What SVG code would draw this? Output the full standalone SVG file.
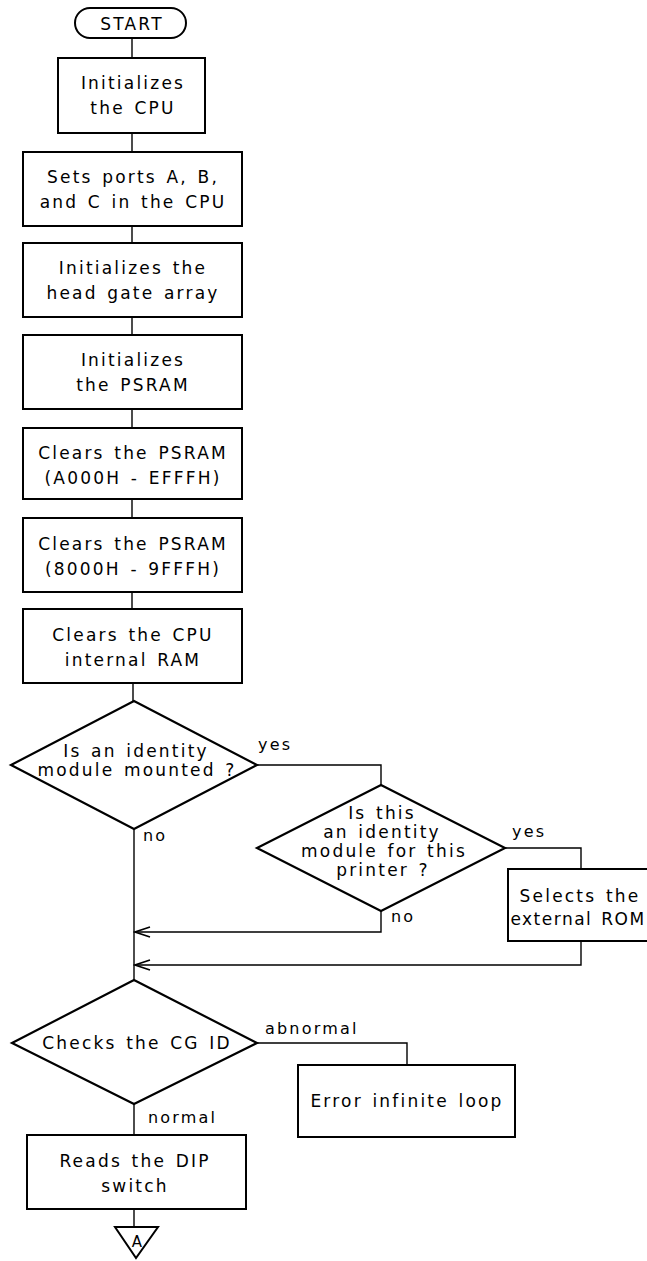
<svg xmlns="http://www.w3.org/2000/svg" width="647" height="1261" viewBox="0 0 647 1261">
<style>
  .box { fill: #fff; stroke: #000; stroke-width: 2; }
  .dia { fill: #fff; stroke: #000; stroke-width: 2.2; stroke-linejoin: miter; }
  .conn { fill: none; stroke: #000; stroke-width: 1.4; }
  text { font-family: "DejaVu Sans", "Liberation Sans", sans-serif; font-size: 17px; fill: #000; letter-spacing: 2.2px; word-spacing: 2px; }
  .c { text-anchor: middle; }
  .lbl { font-size: 16px; }
</style>
<defs>
  <marker id="arr" markerUnits="userSpaceOnUse" viewBox="-17 -7 19 14" refX="0" refY="0" markerWidth="19" markerHeight="14" orient="auto">
    <path d="M-15,-5 L0,0 L-15,5" fill="none" stroke="#000" stroke-width="1.6"/>
  </marker>
</defs>
<rect width="647" height="1261" fill="#fff"/>

<g id="connectors">
  <path class="conn" d="M132,38 V58 M132,133 V152 M132,226 V243 M132,317 V335 M132,409 V428 M132,499 V518 M132,592 V609 M133,683 V701"/>
  <path class="conn" d="M257,765 H381 V785"/>
  <path class="conn" d="M505,848 H581 V869"/>
  <path class="conn" d="M381,911 V932 H135" marker-end="url(#arr)"/>
  <path class="conn" d="M581,941 V965 H135" marker-end="url(#arr)"/>
  <path class="conn" d="M134,829 V980"/>
  <path class="conn" d="M257,1043 H407 V1065"/>
  <path class="conn" d="M134,1104 V1135"/>
  <path class="conn" d="M134,1209 V1227"/>
</g>

<g id="start">
  <rect class="box" x="75" y="8" width="111" height="30" rx="15"/>
  <text class="c" x="132" y="30">START</text>
</g>

<g id="n1">
  <rect class="box" x="58" y="58" width="147" height="75"/>
  <text class="c" x="133" y="89">Initializes</text>
  <text class="c" x="133" y="114">the CPU</text>
</g>

<g id="n2">
  <rect class="box" x="23" y="152" width="219" height="74"/>
  <text class="c" x="133" y="183">Sets ports A, B,</text>
  <text class="c" x="133" y="208">and C in the CPU</text>
</g>

<g id="n3">
  <rect class="box" x="23" y="243" width="219" height="74"/>
  <text class="c" x="133" y="274">Initializes the</text>
  <text class="c" x="133" y="299">head gate array</text>
</g>

<g id="n4">
  <rect class="box" x="23" y="335" width="219" height="74"/>
  <text class="c" x="133" y="366">Initializes</text>
  <text class="c" x="133" y="391">the PSRAM</text>
</g>

<g id="n5">
  <rect class="box" x="23" y="428" width="219" height="71"/>
  <text class="c" x="133" y="459">Clears the PSRAM</text>
  <text class="c" x="133" y="484">(A000H - EFFFH)</text>
</g>

<g id="n6">
  <rect class="box" x="23" y="518" width="219" height="74"/>
  <text class="c" x="133" y="550">Clears the PSRAM</text>
  <text class="c" x="133" y="575">(8000H - 9FFFH)</text>
</g>

<g id="n7">
  <rect class="box" x="23" y="609" width="219" height="74"/>
  <text class="c" x="133" y="641">Clears the CPU</text>
  <text class="c" x="133" y="666">internal RAM</text>
</g>

<g id="d1">
  <polygon class="dia" points="134,701 257,765 134,829 11,765"/>
  <text class="c" x="136" y="757">Is an identity</text>
  <text class="c" x="137" y="776">module mounted ?</text>
  <text class="lbl" x="258" y="750">yes</text>
  <text class="lbl" x="143" y="841">no</text>
</g>

<g id="d2">
  <polygon class="dia" points="381,785 505,848 381,911 257,848"/>
  <text class="c" x="382" y="819">Is this</text>
  <text class="c" x="382" y="838">an identity</text>
  <text class="c" x="384" y="857">module for this</text>
  <text class="c" x="383" y="876">printer ?</text>
  <text class="lbl" x="512" y="837">yes</text>
  <text class="lbl" x="391" y="922">no</text>
</g>

<g id="n8">
  <rect class="box" x="508" y="869" width="146" height="72"/>
  <text class="c" x="580" y="902">Selects the</text>
  <text class="c" x="578" y="925" style="letter-spacing:1.5px">external ROM</text>
</g>

<g id="d3">
  <polygon class="dia" points="134,980 257,1043 134,1104 12,1043"/>
  <text class="c" x="137" y="1049">Checks the CG ID</text>
  <text class="lbl" x="265" y="1034">abnormal</text>
  <text class="lbl" x="148" y="1123">normal</text>
</g>

<g id="n9">
  <rect class="box" x="298" y="1065" width="217" height="72"/>
  <text class="c" x="407" y="1107">Error infinite loop</text>
</g>

<g id="n10">
  <rect class="box" x="27" y="1135" width="219" height="74"/>
  <text class="c" x="135" y="1167">Reads the DIP</text>
  <text class="c" x="135" y="1192">switch</text>
</g>

<g id="connA">
  <polygon class="box" points="115,1227 158,1227 136,1258"/>
  <text class="c" x="137" y="1247" style="font-size:15px;letter-spacing:0">A</text>
</g>
</svg>
